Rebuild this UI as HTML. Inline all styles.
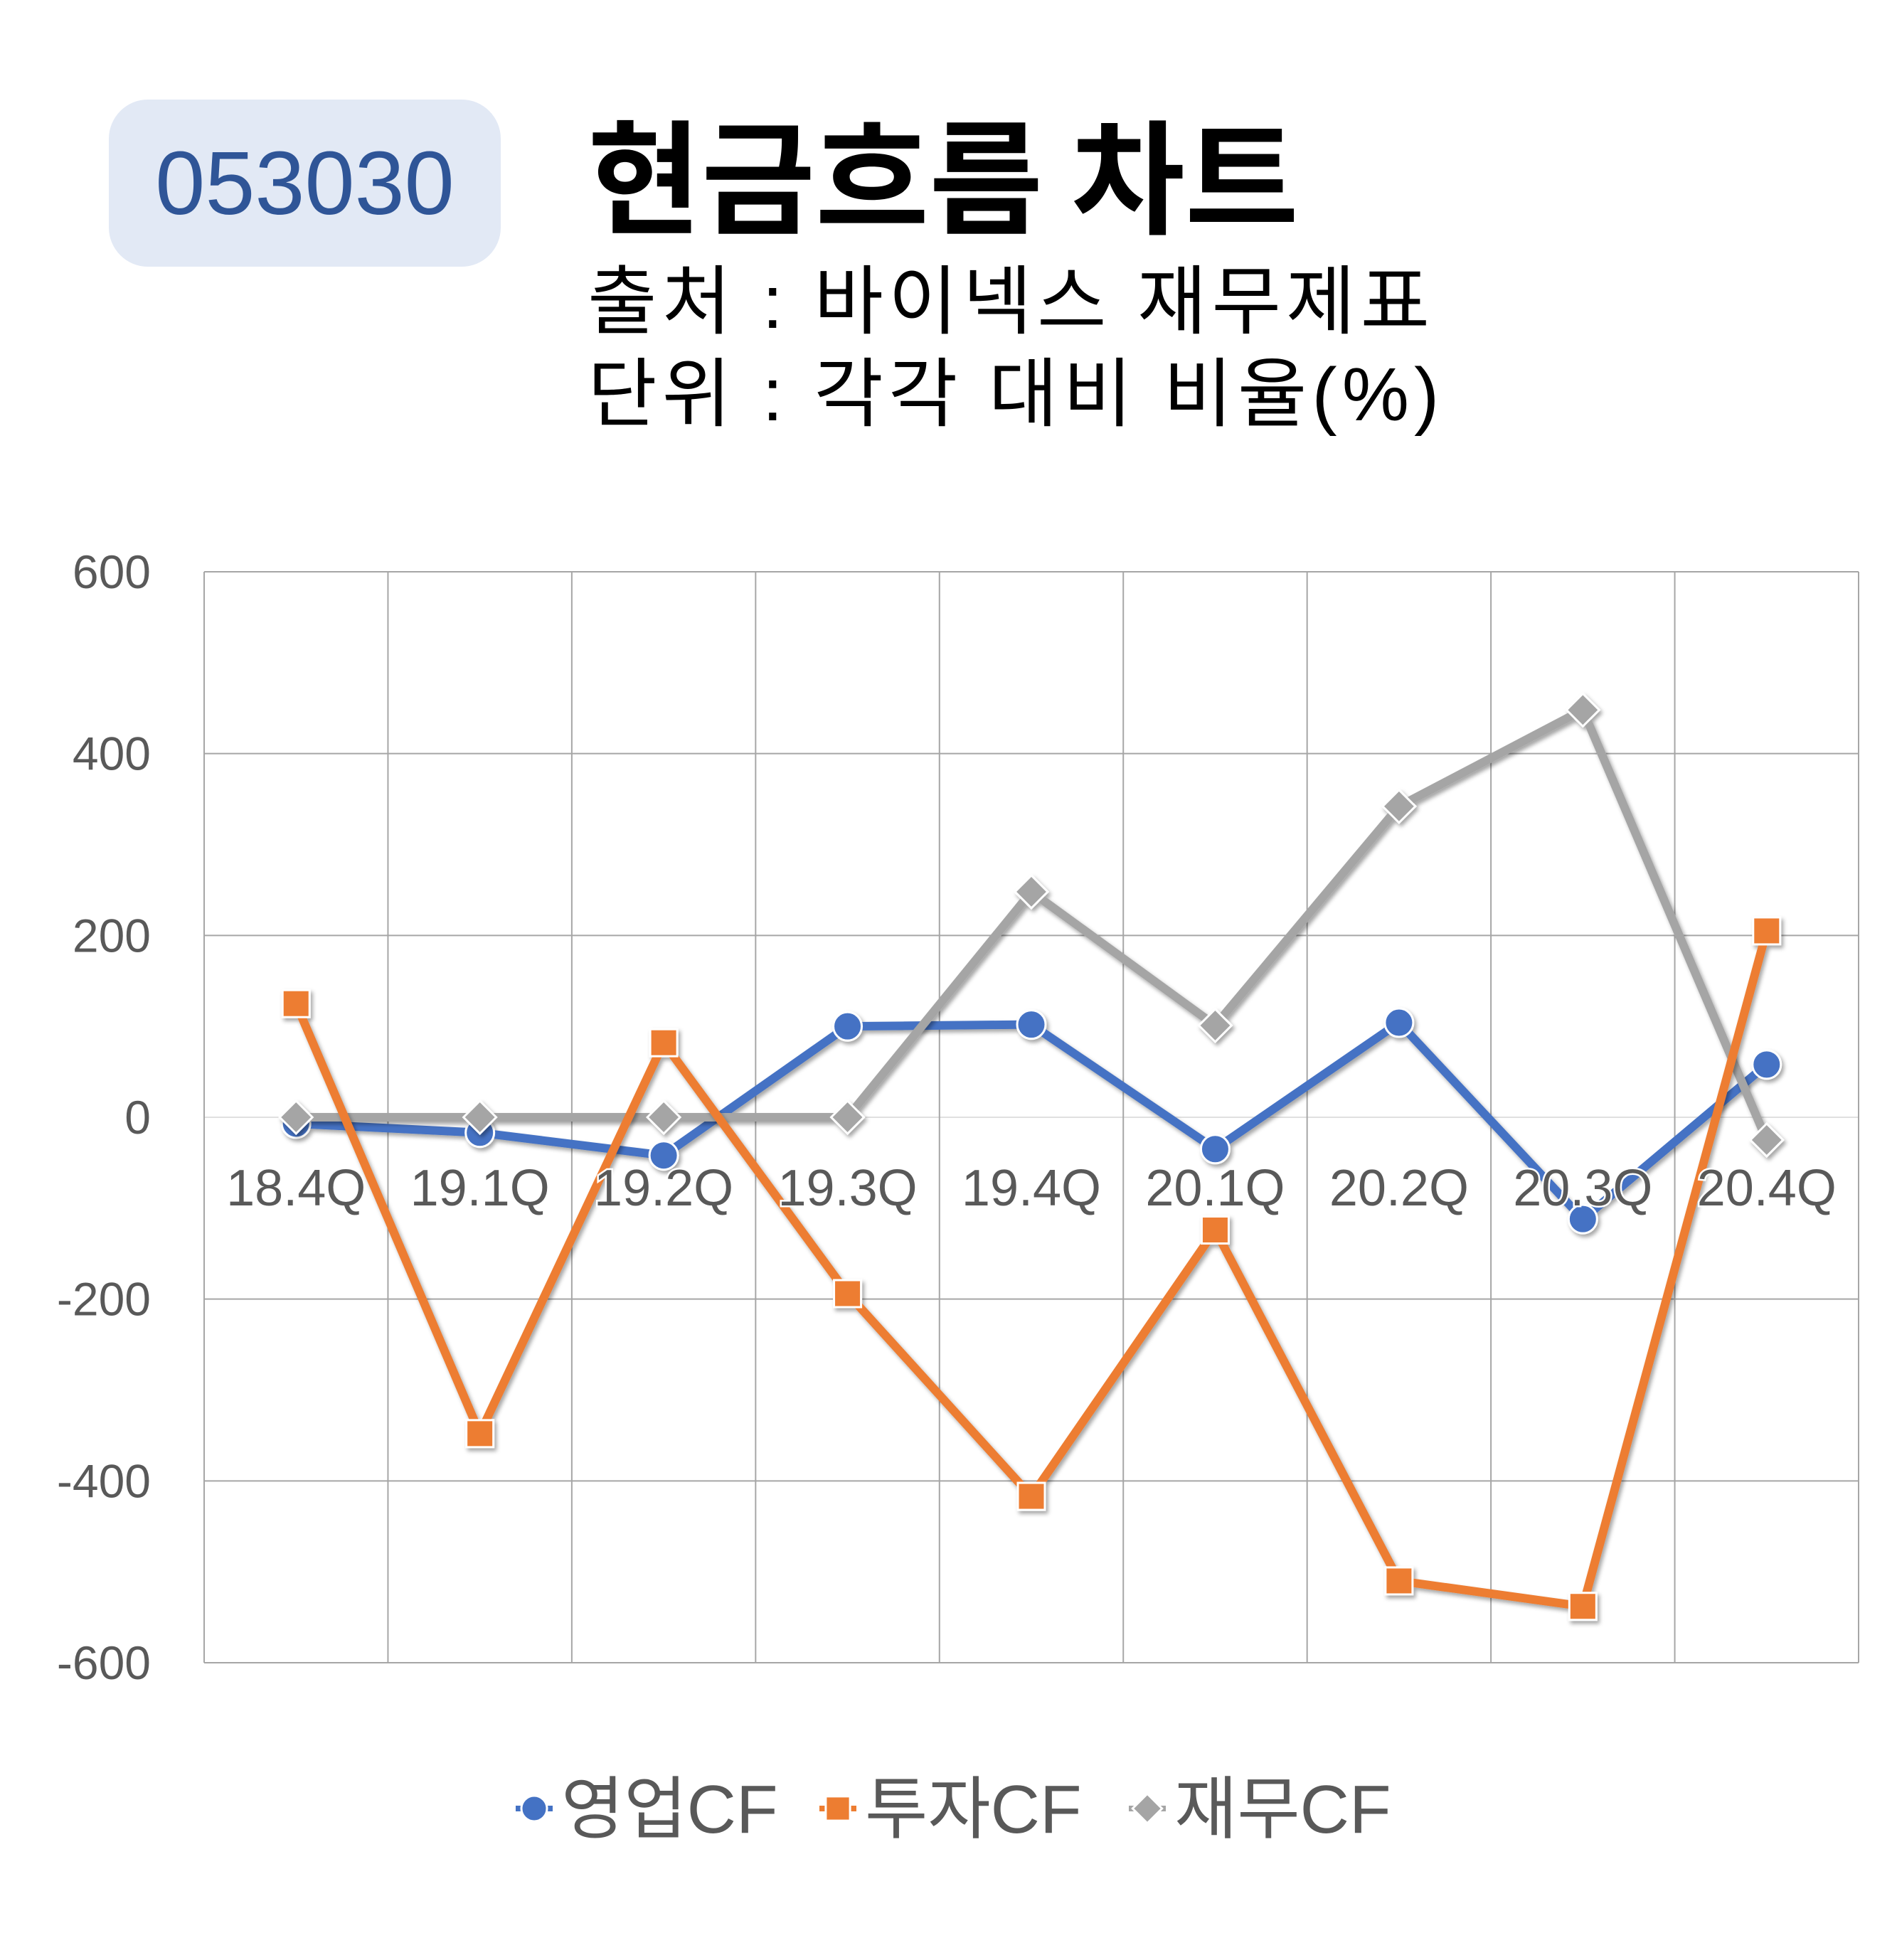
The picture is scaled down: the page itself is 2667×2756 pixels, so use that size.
<!DOCTYPE html>
<html><head><meta charset="utf-8">
<style>
html,body{margin:0;padding:0;background:#fff;}
body{width:2667px;height:2756px;overflow:hidden;position:relative;font-family:"Liberation Sans","Noto Sans CJK KR",sans-serif;}
#badge{position:absolute;left:153px;top:140px;width:551px;height:235px;background:#e2e9f5;border-radius:55px;color:#2f5597;font-size:126px;line-height:235px;text-align:center;}
#title{position:absolute;left:826px;top:150px;font-size:174px;font-weight:bold;line-height:180px;color:#000;font-family:"Noto Sans CJK KR",sans-serif;}
.sub{position:absolute;left:826px;font-size:106px;line-height:120px;color:#000;letter-spacing:7px;font-family:"Liberation Sans","Noto Sans CJK KR",sans-serif;}
svg{position:absolute;left:0;top:0;}
</style></head><body>
<div id="badge">053030</div>
<div id="title">현금흐름 차트</div>
<div class="sub" style="top:365px">출처 : 바이넥스 재무제표</div>
<div class="sub" style="top:495px">단위 : 각각 대비 비율(%)</div>
<svg id="chart" width="2667" height="2756">
<defs><filter id="sh" x="-20%" y="-20%" width="140%" height="140%"><feDropShadow dx="3" dy="4" stdDeviation="3" flood-opacity="0.35"/></filter></defs>
<g id="grid"></g><g id="series"></g><g id="labels"></g><g id="legend"></g>
</svg>
<script>
const categories=["18.4Q","19.1Q","19.2Q","19.3Q","19.4Q","20.1Q","20.2Q","20.3Q","20.4Q"];
const opCF=[-7,-17,-42,100,102,-35,104,-112,58];
const invCF=[125,-348,82,-194,-417,-124,-510,-538,205];
const finCF=[0,0,0,0,248,101,342,448,-25];
const yTicks=[600,400,200,0,-200,-400,-600];
const seriesNames=["영업CF","투자CF","재무CF"];
const NS="http://www.w3.org/2000/svg";
const L=287,R=2613,T=804,B=2338,ymin=-600,ymax=600;
const bw=(R-L)/categories.length;
function x(i){return L+bw*(i+0.5);}
function y(v){return T+(ymax-v)/(ymax-ymin)*(B-T);}
function mk(tag,attrs,parent){const e=document.createElementNS(NS,tag);for(const k in attrs)e.setAttribute(k,attrs[k]);parent.appendChild(e);return e;}
const grid=document.getElementById('grid'),ser=document.getElementById('series'),lab=document.getElementById('labels'),leg=document.getElementById('legend');
yTicks.forEach(t=>{
  const ln=mk('line',{x1:L,x2:R,y1:y(t),y2:y(t),stroke:t===0?'#e0e0e0':'#a6a6a6','stroke-width':2},grid);
  
  
  const tx=mk('text',{x:212,y:y(t)+23,'text-anchor':'end','font-size':66,fill:'#595959','font-family':'Liberation Sans, sans-serif'},lab);
  tx.textContent=t;
  
  
});
for(let i=0;i<=categories.length;i++){
  const ln=mk('line',{x1:L+bw*i,x2:L+bw*i,y1:T,y2:B,stroke:'#a6a6a6','stroke-width':2},grid);
  
  
}
const colors=['#4472c4','#ed7d31','#a5a5a5'];
const datas=[opCF,invCF,finCF];
const order=[0,2,1];
function marker(k,cx,cy,parent,s){
  let e;
  if(k===0)e=mk('circle',{cx:cx,cy:cy,r:20*s,fill:colors[0],stroke:'#fff','stroke-width':3},parent);
  else if(k===1)e=mk('rect',{x:cx-19*s,y:cy-19*s,width:38*s,height:38*s,fill:colors[1],stroke:'#fff','stroke-width':3},parent);
  else e=mk('path',{d:`M${cx} ${cy-23*s}L${cx+23*s} ${cy}L${cx} ${cy+23*s}L${cx-23*s} ${cy}Z`,fill:colors[2],stroke:'#fff','stroke-width':3},parent);
  return e;
}
order.forEach(k=>{
  const g=mk('g',{filter:'url(#sh)'},ser);
  
  
  const pts=datas[k].map((v,i)=>x(i)+','+y(v)).join(' ');
  const pl=mk('polyline',{points:pts,fill:'none',stroke:colors[k],'stroke-width':12,'stroke-linejoin':'round'},g);
  
  
  datas[k].forEach((v,i)=>{
    const m=marker(k,x(i),y(v),g,1);
    
    
  });
});
categories.forEach((c,i)=>{
  const tx=mk('text',{x:x(i),y:1695,'text-anchor':'middle','font-size':72,fill:'#595959','font-family':'Liberation Sans, sans-serif',stroke:'#fff','stroke-width':5,'paint-order':'stroke'},lab);
  tx.textContent=c;
  
  
});
const legX=[751,1178,1613];
seriesNames.forEach((n,k)=>{
  const g=mk('g',{},leg);
  
  
  mk('line',{x1:legX[k]-26,x2:legX[k]+26,y1:2543,y2:2543,stroke:colors[k],'stroke-width':8},g);
  marker(k,legX[k],2543,g,0.9);
  const tx=mk('text',{x:legX[k]+38,y:2577,'font-size':96,fill:'#595959','font-family':'Liberation Sans, Noto Sans CJK KR, sans-serif'},g);
  tx.textContent=n;
});
</script>
</body></html>
